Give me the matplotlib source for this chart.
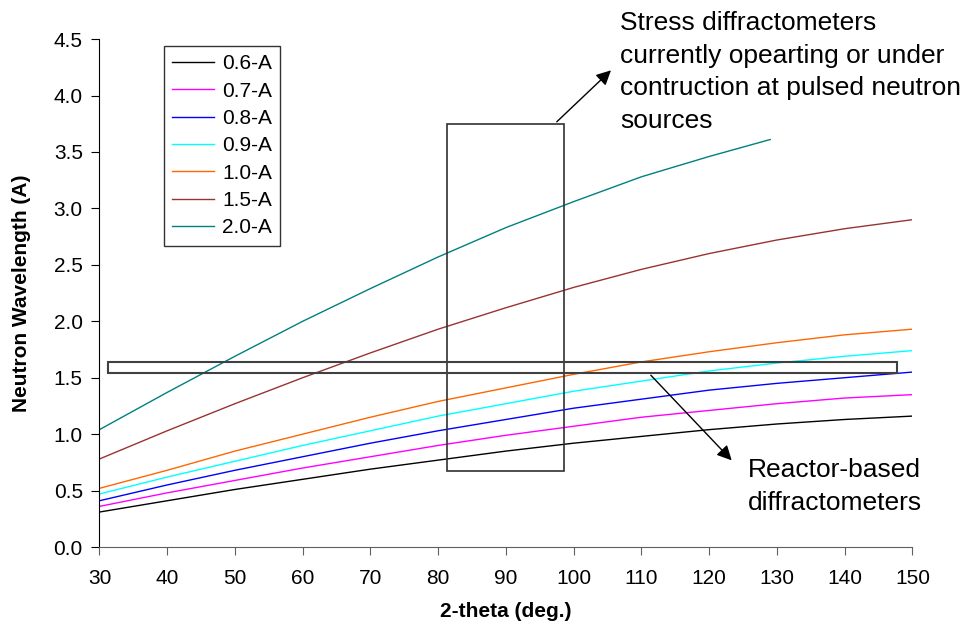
import matplotlib
matplotlib.use("Agg")
import matplotlib.pyplot as plt
from matplotlib.patches import Rectangle

plt.rcParams["font.family"] = ["Liberation Sans", "DejaVu Sans"]

# 2-theta positions (deg.)
two_theta = [30, 40, 50, 60, 70, 80, 90, 100, 110, 120, 130, 140, 150]
two_theta_20 = [30, 40, 50, 60, 70, 80, 90, 100, 110, 120, 129]

# Neutron wavelength (A) for each d-spacing
wl_06 = [0.31, 0.41, 0.51, 0.60, 0.69, 0.77, 0.85, 0.92, 0.98, 1.04, 1.09, 1.13, 1.16]
wl_07 = [0.36, 0.48, 0.59, 0.70, 0.80, 0.90, 0.99, 1.07, 1.15, 1.21, 1.27, 1.32, 1.35]
wl_08 = [0.41, 0.55, 0.68, 0.80, 0.92, 1.03, 1.13, 1.23, 1.31, 1.39, 1.45, 1.50, 1.55]
wl_09 = [0.47, 0.62, 0.76, 0.90, 1.03, 1.16, 1.27, 1.38, 1.47, 1.56, 1.63, 1.69, 1.74]
wl_10 = [0.52, 0.68, 0.85, 1.00, 1.15, 1.29, 1.41, 1.53, 1.64, 1.73, 1.81, 1.88, 1.93]
wl_15 = [0.78, 1.03, 1.27, 1.50, 1.72, 1.93, 2.12, 2.30, 2.46, 2.60, 2.72, 2.82, 2.90]
wl_20 = [1.04, 1.37, 1.69, 2.00, 2.29, 2.57, 2.83, 3.06, 3.28, 3.46, 3.61]

labels = ["0.6-A", "0.7-A", "0.8-A", "0.9-A", "1.0-A", "1.5-A", "2.0-A"]
colors = ["#000000", "#FF00FF", "#0000FF", "#00FFFF", "#FF6600", "#993333", "#008080"]
series = [(two_theta, wl_06), (two_theta, wl_07), (two_theta, wl_08),
          (two_theta, wl_09), (two_theta, wl_10), (two_theta, wl_15),
          (two_theta_20, wl_20)]

fig = plt.figure(figsize=(9.61, 6.30), dpi=100)
ax = fig.add_axes([0.1035, 0.1317, 0.846, 0.8063])

for (xs, ys), lab, col in zip(series, labels, colors):
    ax.plot(xs, ys, color=col, lw=1.0, label=lab)

ax.set_xlim(30, 150)
ax.set_ylim(0, 4.5)
ax.set_xticks(range(30, 151, 10))
ax.set_yticks([i * 0.5 for i in range(10)])
ax.set_yticklabels([f"{i * 0.5:.1f}" for i in range(10)])
ax.tick_params(axis="both", labelsize=15, direction="out", length=6)
ax.tick_params(axis="x", colors="#606060", labelcolor="black", pad=10)
ax.tick_params(axis="y", pad=6)
ax.spines["top"].set_visible(False)
ax.spines["right"].set_visible(False)
ax.spines["bottom"].set_color("#606060")
ax.spines["left"].set_color("black")

ax.set_xlabel("2-theta (deg.)", fontsize=15, fontweight="bold", labelpad=10)
ax.set_ylabel("Neutron Wavelength (A)", fontsize=15, fontweight="bold", labelpad=16)

leg = ax.legend(loc="upper left", bbox_to_anchor=(0.0665, 1.0066), fontsize=15,
                frameon=True, fancybox=False, handlelength=2.0,
                handletextpad=0.4, labelspacing=0.4, borderpad=0.4)
leg.get_frame().set_edgecolor("black")
leg.get_frame().set_linewidth(1.0)

# Boxes marking instrument regions
ax.add_patch(Rectangle((81.3, 0.673), 17.3, 3.077, fill=False,
                       edgecolor="#303030", lw=1.2, zorder=4))
ax.add_patch(Rectangle((31.2, 1.54), 116.5, 0.10, fill=False,
                       edgecolor="#404040", lw=1.5, zorder=4))

arrow = dict(arrowstyle="-|>", color="black", lw=1.0, mutation_scale=22)
ax.annotate("", xy=(105.8, 4.24), xytext=(97.2, 3.75),
            arrowprops=arrow, annotation_clip=False)
ax.annotate("", xy=(123.6, 0.75), xytext=(111.1, 1.54),
            arrowprops=arrow, annotation_clip=False)

fig.text(620 / 961, 1 - 11 / 630,
         "Stress diffractometers\ncurrently opearting or under\ncontruction at pulsed neutron\nsources",
         fontsize=19, va="top", ha="left", linespacing=1.45)
fig.text(748 / 961, 1 - 458 / 630, "Reactor-based\ndiffractometers",
         fontsize=19, va="top", ha="left", linespacing=1.45)

fig.savefig("out.png", dpi=100)
